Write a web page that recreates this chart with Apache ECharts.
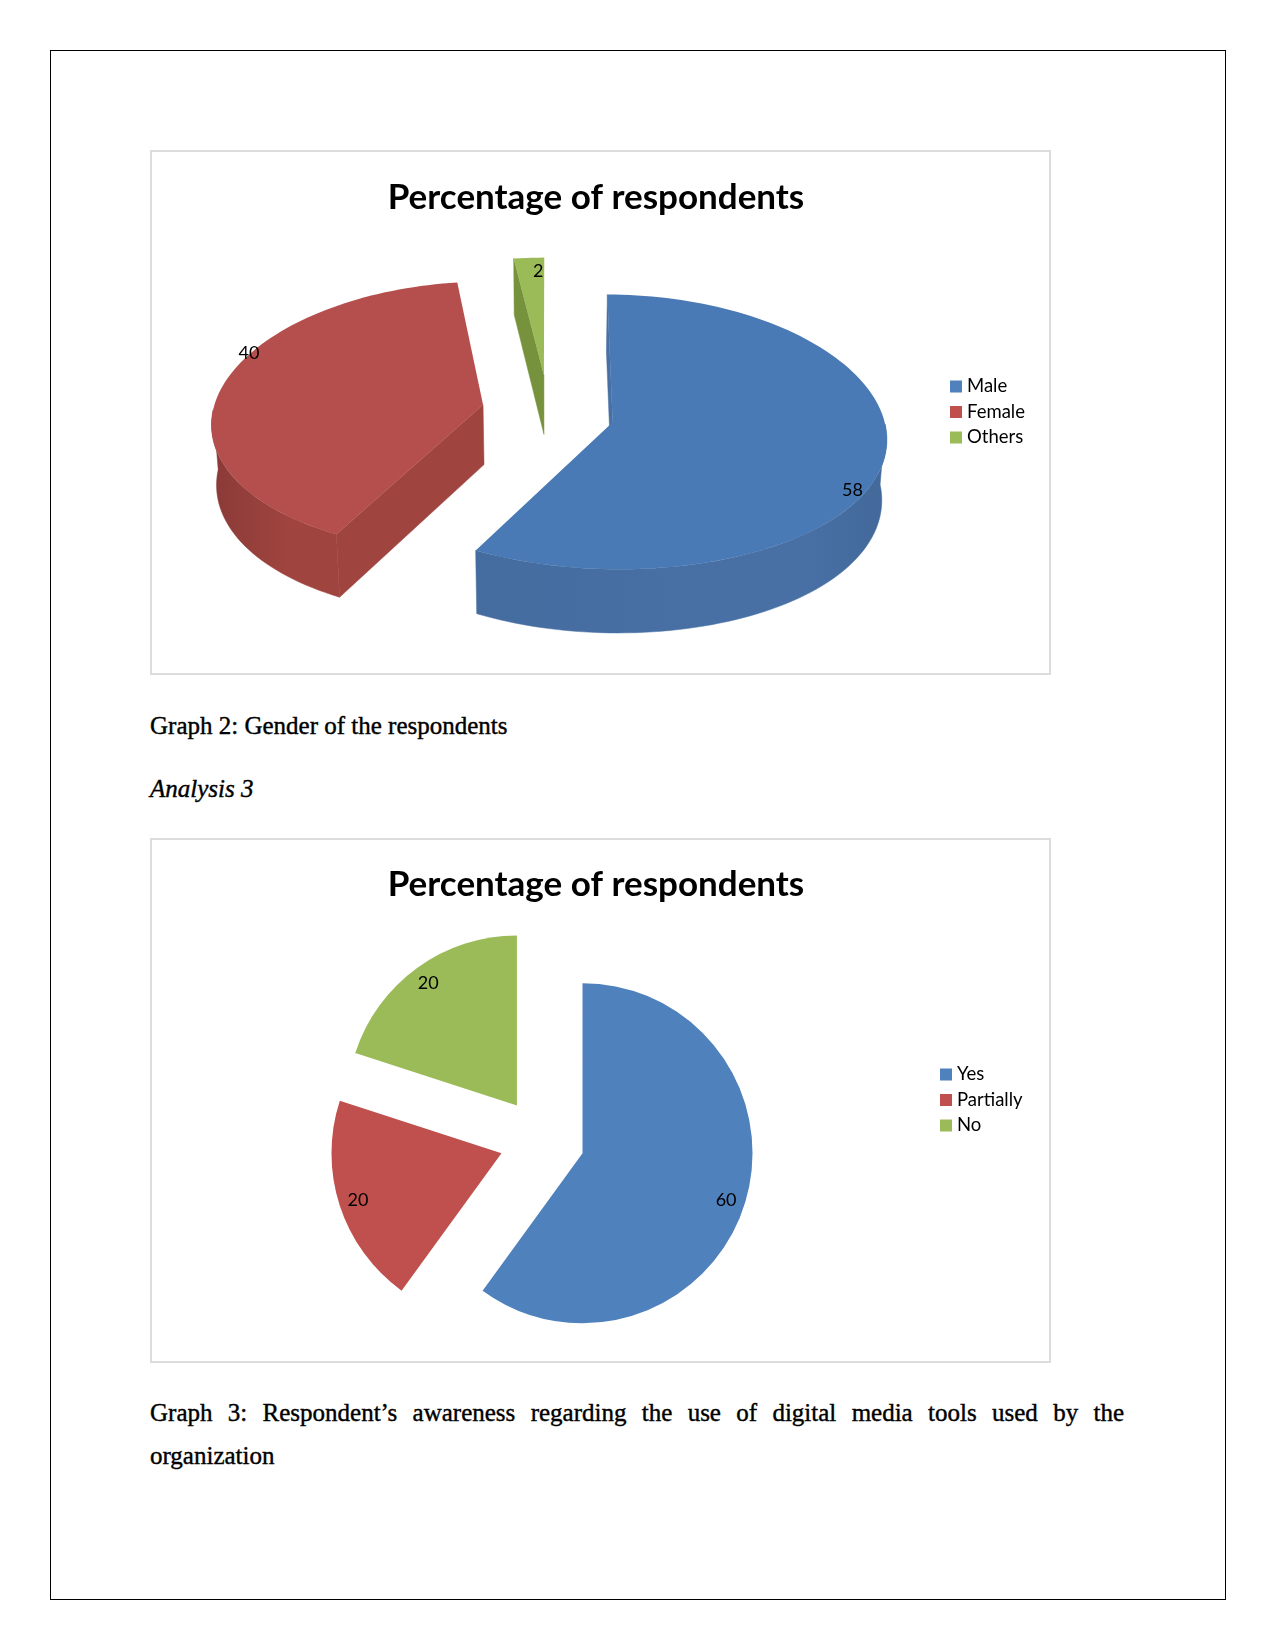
<!DOCTYPE html>
<html>
<head>
<meta charset="utf-8">
<script src="https://cdn.jsdelivr.net/npm/echarts@6/dist/echarts.min.js"></script>
<style>
  html, body { margin: 0; background: #fff; }
  .pagina { position: relative; width: 1275px; height: 1650px; overflow: hidden; }
  .marco { position: absolute; left: 50px; top: 50px; width: 1174px; height: 1548px; border: 1px solid #000; }
  .grafico { position: absolute; left: 150px; width: 901px; height: 525px; outline: 2px solid #dcdcdc; outline-offset: -2px; }
  .texto { position: absolute; left: 150px; width: 974px; font: 25px/44px "Liberation Serif", serif; color: #000; -webkit-text-stroke: 0.4px #000; }
</style>
</head>
<body>
<div class="pagina">
  <div class="marco"></div>
  <div id="graficoGenero" class="grafico" style="top:150px"></div>
  <div class="texto" style="top:704px">Graph 2: Gender of the respondents</div>
  <div class="texto" style="top:767px;font-style:italic">Analysis 3</div>
  <div id="graficoUso" class="grafico" style="top:838px"></div>
  <div class="texto" style="top:1391px;text-align:justify;text-align-last:justify">Graph 3: Respondent’s awareness regarding the use of digital media tools used by the</div>
  <div class="texto" style="top:1434px">organization</div>
</div>

<script>
const titulo = 'Percentage of respondents'

const categoriasGenero = ['Male', 'Female', 'Others']
const valoresGenero = [58, 40, 2]

const categoriasUso = ['Yes', 'Partially', 'No']
const valoresUso = [60, 20, 20]

// blue, red, green
const coloresPlanos = ['#4f81bd', '#c0504d', '#9bbb59']
const coloresCara = ['#4a7ab5', '#b54f4d', '#9bbb59']
const coloresPared = ['#4870a5', '#a0443f', '#76923c']
const coloresParedIzq = ['#456c9f', '#8a3a38', '#76923c']
const coloresParedDer = ['#43699a', '#a0443f', '#76923c']
// Excel leaves the 3D labels off the slice's own axis
const ajusteEtiquetas = [[-4, 35], [0, -34], [8, 1]]
// the slice tips sit a little higher than the rims suggest
const ajusteVertices = [-2, -5, -8]

// perspective view of the exploded 3D pie
const vista = { cx: 398, cy: 266, rx: 271, ry: 136, fuga: 0.055, fugaX: 0.09, separacion: 0.245, alto: 60, encoge: 0.985 }

const proyectar = (u, v, z) => {
  const w = 1 - vista.fuga * v
  const wx = 1 - vista.fugaX * v
  const s = z ? vista.encoge : 1
  return [vista.cx + vista.rx * u / wx * s, vista.cy + (vista.ry * v + z) / w]
}

const crearRenderRebanada = indice => (params, api) => {
  const inicio = api.value(0)
  const fin = api.value(1)
  const medio = (inicio + fin) / 2
  const ox = vista.separacion * Math.sin(medio)
  const oy = -vista.separacion * Math.cos(medio)
  const enBorde = (t, z) => proyectar(ox + Math.sin(t), oy - Math.cos(t), z)
  const vertice = z => {
    const p = proyectar(ox, oy, z)
    return [p[0], p[1] + ajusteVertices[indice]]
  }

  const arco = (a, b, z) => {
    const pasos = Math.max(2, Math.ceil((b - a) / 0.03))
    const puntos = []
    for (let i = 0; i <= pasos; i++) puntos.push(enBorde(a + (b - a) * i / pasos, z))
    return puntos
  }

  const hijos = []
  const pared = (puntos, relleno) => hijos.push({
    type: 'polygon',
    shape: { points: puntos },
    style: { fill: relleno, stroke: relleno, lineWidth: 0.5 }
  })

  // straight walls, only the ones facing the viewer
  if (-Math.sin(inicio) >= 0 || Math.abs(Math.sin(inicio)) < 0.001) {
    pared([vertice(0), enBorde(inicio, 0), enBorde(inicio, vista.alto), vertice(vista.alto)], coloresPared[indice])
  }
  if (Math.sin(fin) > 0.001) {
    pared([vertice(0), enBorde(fin, 0), enBorde(fin, vista.alto), vertice(vista.alto)], coloresPared[indice])
  }

  // outer wall, front half of the circle only
  const desde = Math.max(inicio, Math.PI / 2)
  const hasta = Math.min(fin, Math.PI * 1.5)
  if (hasta > desde) {
    const relleno = new echarts.graphic.LinearGradient(0, 0, 1, 0, [
      { offset: 0, color: coloresParedIzq[indice] },
      { offset: 0.6, color: coloresPared[indice] },
      { offset: 0.8, color: coloresPared[indice] },
      { offset: 1, color: coloresParedDer[indice] }
    ])
    pared(arco(desde, hasta, 0).concat(arco(desde, hasta, vista.alto).reverse()), relleno)
  }

  // top face
  hijos.push({
    type: 'polygon',
    shape: { points: [vertice(0)].concat(arco(inicio, fin, 0)) },
    style: { fill: coloresCara[indice] }
  })

  const etiqueta = proyectar(ox + 0.9 * Math.sin(medio), oy - 0.9 * Math.cos(medio), 0)
  hijos.push({
    type: 'text',
    style: {
      text: String(api.value(2)),
      x: etiqueta[0] + ajusteEtiquetas[indice][0],
      y: etiqueta[1] + ajusteEtiquetas[indice][1],
      align: 'center',
      verticalAlign: 'middle',
      font: '18px Lato',
      fill: '#000'
    }
  })
  return { type: 'group', children: hijos }
}

const opcionesTitulo = (top) => ({
  text: titulo,
  left: 441,
  top,
  textAlign: 'center',
  textStyle: { fontFamily: 'Lato', fontWeight: 'bold', fontSize: 35, color: '#000' }
})

const opcionesLeyenda = (left, top) => ({
  orient: 'vertical',
  left,
  top,
  icon: 'rect',
  itemWidth: 12,
  itemHeight: 12,
  itemGap: 6.5,
  selectedMode: false,
  textStyle: { fontFamily: 'Lato', fontSize: 18.5, color: '#000' }
})

// 3D pie
const totalGenero = valoresGenero.reduce((a, b) => a + b, 0)
let acumulado = 0
const seriesGenero = categoriasGenero.map((nombre, i) => {
  const inicio = acumulado / totalGenero * Math.PI * 2
  acumulado += valoresGenero[i]
  const fin = acumulado / totalGenero * Math.PI * 2
  return {
    type: 'custom',
    name: nombre,
    coordinateSystem: 'none',
    silent: true,
    itemStyle: { color: coloresPlanos[i] },
    renderItem: crearRenderRebanada(i),
    data: [[inicio, fin, valoresGenero[i]]]
  }
})

const graficoGenero = echarts.init(document.getElementById('graficoGenero'))
graficoGenero.setOption({
  animation: false,
  title: opcionesTitulo(25),
  legend: opcionesLeyenda(795, 222),
  series: seriesGenero
})

// flat exploded pie
const datosUso = categoriasUso.map((name, i) => ({ name, value: valoresUso[i], selected: true }))
const seriePastel = {
  type: 'pie',
  center: [392, 302],
  startAngle: 90,
  selectedMode: 'multiple',
  selectedOffset: 42.6,
  silent: true,
  labelLine: { show: false },
  data: datosUso
}

const graficoUso = echarts.init(document.getElementById('graficoUso'))
graficoUso.setOption({
  animation: false,
  color: coloresPlanos,
  title: opcionesTitulo(24),
  legend: opcionesLeyenda(785, 222),
  series: [
    { ...seriePastel, radius: 170, label: { show: false } },
    // clear ring that only carries the labels near the rim
    {
      ...seriePastel,
      radius: [126, 170],
      itemStyle: { color: 'rgba(0,0,0,0)' },
      label: { show: true, position: 'inside', formatter: '{c}', fontFamily: 'Lato', fontSize: 18, color: '#000' }
    }
  ]
})
</script>
</body>
</html>
